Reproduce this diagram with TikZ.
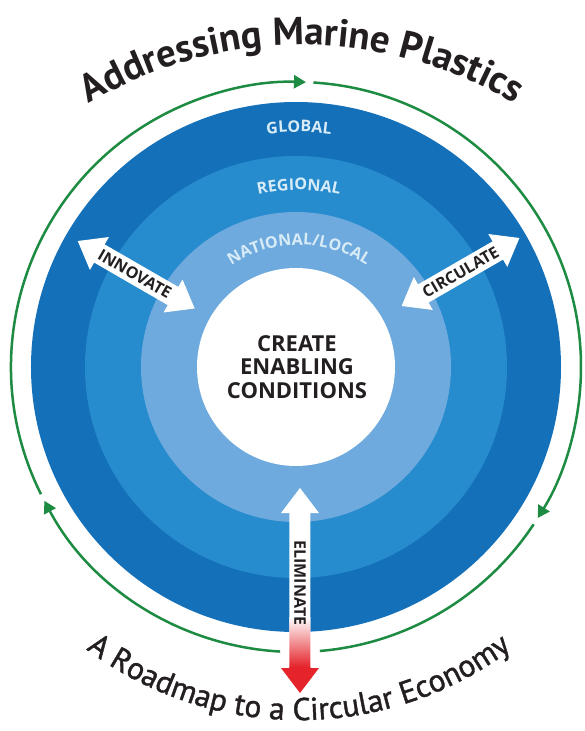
\documentclass[tikz,border=0pt]{standalone}
\usepackage{fontspec}
\usetikzlibrary{decorations.text,arrows.meta}
\newfontfamily\ptsans{PT Sans}
\newfontfamily\ptsemi{PT Sans}[FakeBold=1.3]
\newfontfamily\opensans{Open Sans}
\definecolor{bluedark}{HTML}{1470B8}
\definecolor{bluemid}{HTML}{278CCD}
\definecolor{bluelight}{HTML}{6EAADD}
\definecolor{ringtext}{HTML}{D8ECF8}
\definecolor{greenline}{HTML}{1E8B43}
\definecolor{inktext}{HTML}{231F20}
\definecolor{elimred}{HTML}{E4232A}
\definecolor{elimmid}{HTML}{F39576}
\newcommand\titlefmt{\ptsans\bfseries\fontsize{39}{42}\selectfont}
\newcommand\subfmt{\ptsemi\fontsize{31.5}{34}\selectfont}
\newcommand\ringfmt{\opensans\bfseries\fontsize{16}{18}\selectfont}
\begin{document}
\begin{tikzpicture}[x=1pt,y=1pt,
  ringlabel/.style={decorate,decoration={text along path,text align=center,text color=ringtext}},
  curvetitle/.style={decorate,decoration={text along path,text align=center,text color=inktext}},
  arrowtext/.style={font=\opensans\bfseries\fontsize{16}{18}\selectfont,text=inktext,inner sep=0pt},
  greenarc/.style={draw=greenline,line width=2.5pt,-{Triangle[length=12pt,width=13pt]}},
  greenplain/.style={draw=greenline,line width=2.5pt},
  pics/dblarrow/.style 2 args={code={
    \fill[white] (#1,0) -- ({#1+25},19) -- ({#1+25},10.5) -- ({#2-25},10.5) -- ({#2-25},19) -- (#2,0)
      -- ({#2-25},-19) -- ({#2-25},-10.5) -- ({#1+25},-10.5) -- ({#1+25},-19) -- cycle;}}
]
\useasboundingbox (-296,-364) rectangle (289,367);
\fill[white] (-296,-364) rectangle (289,367);

% rings
\fill[bluedark] (0,0) circle[radius=265pt];
\fill[bluemid] (0,0) circle[radius=211pt];
\fill[bluelight] (0,0) circle[radius=155pt];
\fill[white] (0,0) circle[radius=99pt];

% ring labels
\path[ringlabel,shift={(3,0)},decoration={text={|\ringfmt|GLOBAL}}] (180:235pt) arc[start angle=180,end angle=0,radius=235pt];
\path[ringlabel,shift={(3,0)},decoration={text={|\ringfmt|REGIONAL}}] (180:177pt) arc[start angle=180,end angle=0,radius=177pt];
\path[ringlabel,shift={(3,0)},decoration={text={|\ringfmt|NATIONAL/LOCAL}}] (180:122pt) arc[start angle=180,end angle=0,radius=122pt];

% green cycle
\draw[greenarc] (206.5:285pt) arc[start angle=206.5,end angle=88,radius=285pt];
\draw[greenarc] (86.5:285pt) arc[start angle=86.5,end angle=-32,radius=285pt];
\draw[greenplain] (-33.5:285pt) arc[start angle=-33.5,end angle=-85.2,radius=285pt];
\draw[greenarc] (-93.2:285pt) arc[start angle=-93.2,end angle=-152,radius=285pt];

% innovate / circulate arrows
\pic[rotate=150] {dblarrow={117}{252}};
\pic[rotate=30] {dblarrow={122}{258}};
\node[arrowtext,rotate=-30] (innovate) at (150:186pt) {INNOVATE};
\node[arrowtext,rotate=30] (circulate) at (30:190pt) {CIRCULATE};

% eliminate arrow
\fill[white] (4,-121) -- (23,-146) -- (14.5,-146) -- (14.5,-301) -- (23,-301) -- (4,-326)
  -- (-15,-301) -- (-6.5,-301) -- (-6.5,-146) -- (-15,-146) -- cycle;
\begin{scope}
\clip (4,-121) -- (23,-146) -- (14.5,-146) -- (14.5,-301) -- (23,-301) -- (4,-326)
  -- (-15,-301) -- (-6.5,-301) -- (-6.5,-146) -- (-15,-146) -- cycle;
\shade[top color=white,middle color=elimmid,bottom color=elimred] (-20,-250) rectangle (30,-300);
\fill[elimred] (-20,-300) rectangle (30,-330);
\end{scope}
\node[arrowtext,rotate=-90] (eliminate) at (4,-216) {ELIMINATE};

% centre
\node[align=center,font=\opensans\bfseries\fontsize{22}{23.5}\selectfont,text=inktext,inner sep=0pt] (centre) at (1,0) {CREATE\\ENABLING\\CONDITIONS};

% curved titles
\path[curvetitle,shift={(6,-93)},decoration={text={|\titlefmt|Addressing Marine Plastics}}] (140:415pt) arc[start angle=140,end angle=40,radius=415pt];
\path[curvetitle,shift={(3,2)},decoration={text={|\subfmt|A Roadmap to a Circular Economy}}] (200:355pt) arc[start angle=200,end angle=340,radius=355pt];
\end{tikzpicture}
\end{document}
